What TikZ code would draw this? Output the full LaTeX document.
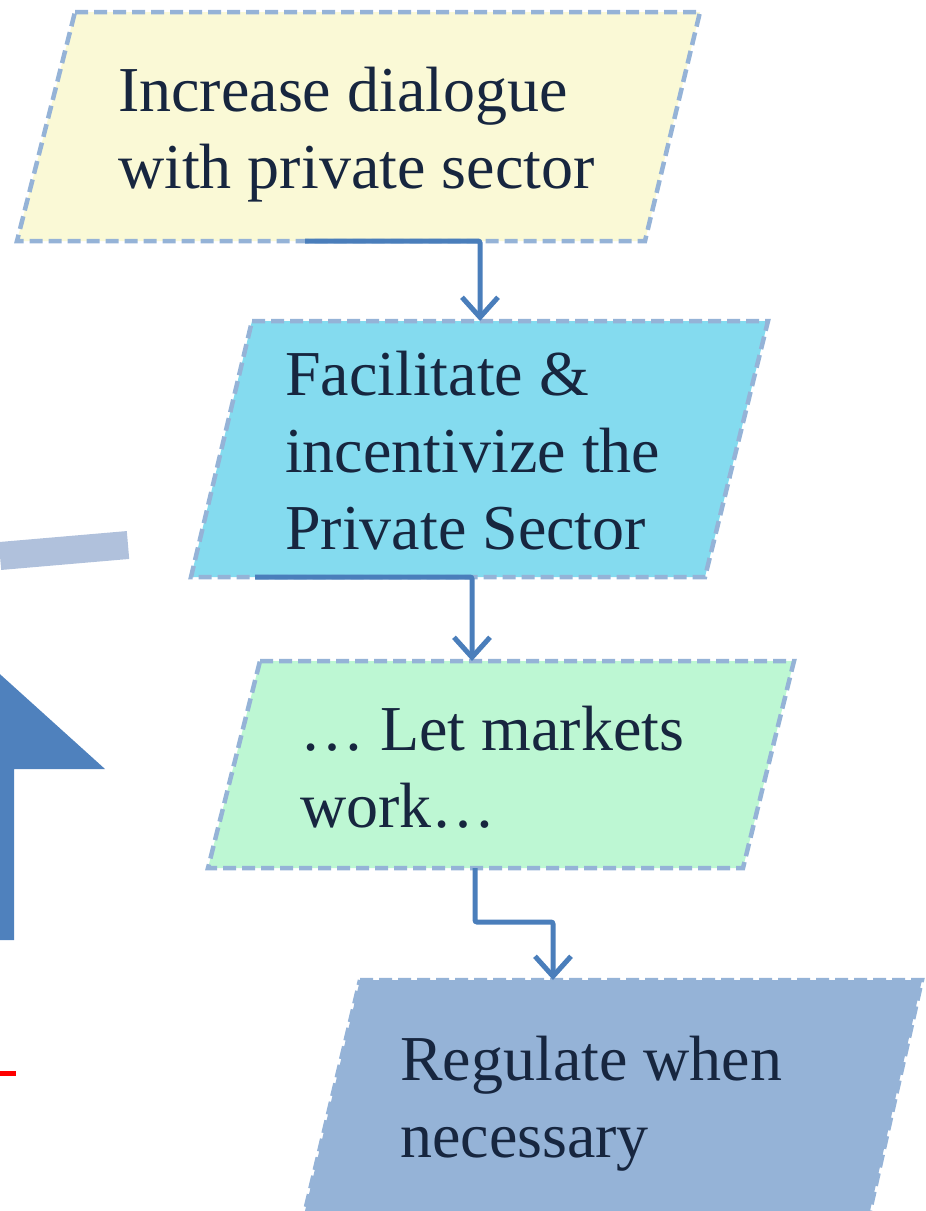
\documentclass[tikz,border=0pt]{standalone}
\usepackage{fontspec}
\setmainfont{Liberation Serif}
\usepackage{tikz}
\usetikzlibrary{arrows.meta}
\usepackage{xcolor}

\definecolor{txtnavy}{HTML}{17263F}
\definecolor{edgeblue}{HTML}{95B3D7}
\definecolor{flowblue}{HTML}{4A7EBB}
\definecolor{fillyellow}{HTML}{FAF9D6}
\definecolor{fillcyan}{HTML}{84DBEF}
\definecolor{fillgreen}{HTML}{BDF7D3}
\definecolor{fillgrey}{HTML}{95B3D7}
\definecolor{barblue}{HTML}{B0C1DC}
\definecolor{bigblue}{HTML}{4F81BD}

\tikzset{
  stepbox/.style={draw=edgeblue, line width=4.5pt, dash pattern=on 13pt off 6pt},
  boxtext/.style={anchor=base west, align=left, inner sep=0pt, text=txtnavy,
    font=\fontsize{64}{77}\selectfont},
  flow/.style={draw=flowblue, line width=5pt, rounded corners=2pt,
    -{Straight Barb[length=20pt, width=36pt, line width=5pt]}}
}

\begin{document}
\begin{tikzpicture}[x=1pt, y=-1pt]
\useasboundingbox (0,0) rectangle (926,1211);
\clip (0,0) rectangle (926,1211);

% left side pieces
\draw[barblue, line width=28pt] (0,556) -- (128,545);
\fill[bigblue] (-60,620) -- (105,769) -- (14,769) -- (14,940) -- (-60,940) -- cycle;
\draw[red, line width=5pt] (0,1073) -- (16,1073);

% boxes
\filldraw[stepbox, fill=fillyellow] (75,12) -- (700,12) -- (645,241) -- (17,241) -- cycle;
\filldraw[stepbox, fill=fillcyan] (252,321) -- (768,321) -- (705,577) -- (191,577) -- cycle;
\filldraw[stepbox, fill=fillgreen] (260,661) -- (794,661) -- (743,868) -- (208,868) -- cycle;
\filldraw[stepbox, fill=fillgrey] (360,980) -- (922,980) -- (870,1211) -- (305,1211) -- cycle;

% texts (base anchor sits on the last line)
\node[boxtext] (inc) at (118,188) {Increase dialogue\\with private sector};
\node[boxtext] (fac) at (285,549) {Facilitate \&\\incentivize the\\Private Sector};
\node[boxtext] (mkt) at (300,827) {… Let markets\\work…};
\node[boxtext] (reg) at (400,1157) {Regulate when\\necessary};

% connector ends
\coordinate (inc-out) at (305,241);
\coordinate (fac-in) at (480,321);
\coordinate (fac-out) at (255,577);
\coordinate (mkt-in) at (472,661);
\coordinate (mkt-out) at (475,868);
\coordinate (reg-in) at (553,980);

\draw[flow] (inc-out) -| (fac-in);
\draw[flow] (fac-out) -| (mkt-in);
\draw[flow] (mkt-out) -- ++(0,54) -| (reg-in);
\end{tikzpicture}
\end{document}
